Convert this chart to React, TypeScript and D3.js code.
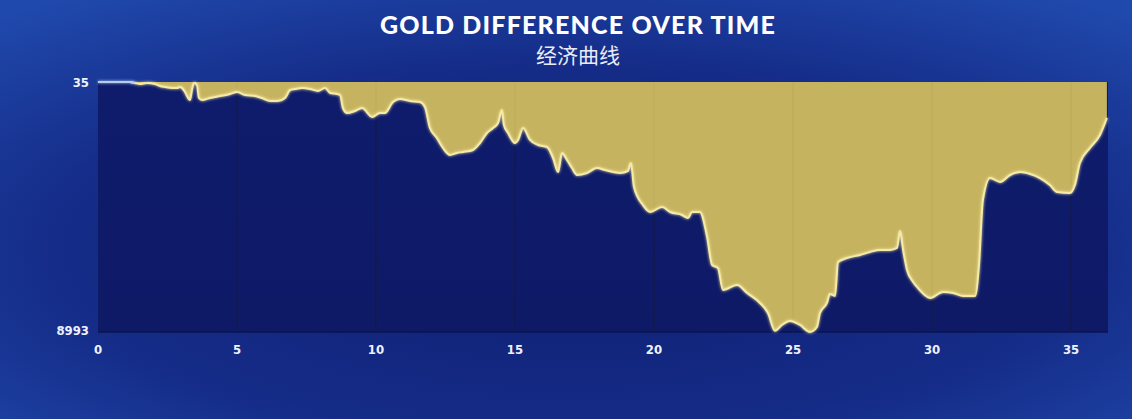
import React from "react";
import * as d3 from "d3";

const minutes = [0, 1.15, 1.33, 1.51, 1.76, 2.05, 2.23, 2.41, 2.66, 2.84, 2.95, 3.13, 3.24, 3.31, 3.38, 3.45, 3.56, 3.63, 3.74, 4.03, 4.39, 4.75, 5.0, 5.29, 5.65, 5.9, 6.19, 6.47, 6.73, 6.91, 7.09, 7.34, 7.63, 7.91, 8.17, 8.35, 8.6, 8.71, 8.81, 8.96, 9.24, 9.5, 9.86, 10.14, 10.32, 10.61, 10.86, 11.22, 11.58, 11.76, 11.94, 12.19, 12.41, 12.66, 12.91, 13.13, 13.49, 13.74, 13.99, 14.21, 14.39, 14.53, 14.6, 14.75, 15.0, 15.11, 15.29, 15.54, 15.83, 16.15, 16.37, 16.55, 16.69, 16.87, 17.05, 17.23, 17.59, 17.95, 18.24, 18.53, 18.78, 19.06, 19.17, 19.28, 19.6, 19.86, 20.29, 20.58, 21.01, 21.22, 21.37, 21.65, 21.91, 22.09, 22.3, 22.48, 22.99, 23.35, 23.81, 24.1, 24.35, 24.6, 24.89, 25.25, 25.61, 25.86, 25.97, 26.22, 26.33, 26.51, 26.62, 26.94, 27.41, 27.77, 28.13, 28.49, 28.74, 28.85, 28.96, 29.1, 29.32, 29.46, 29.93, 30.4, 30.76, 31.12, 31.55, 31.69, 31.83, 32.09, 32.45, 32.81, 33.17, 33.53, 33.88, 34.24, 34.5, 34.96, 35.14, 35.32, 35.68, 36.04, 36.29];

const goldDiff = [35, 35, -1, -37, -1, -37, -109, -146, -182, -182, -146, -326, -543, -615, -254, -1, -73, -543, -615, -543, -471, -398, -326, -434, -471, -543, -651, -651, -543, -254, -218, -182, -218, -290, -182, -362, -398, -434, -904, -1084, -1012, -904, -1229, -1084, -1084, -687, -579, -651, -687, -868, -1626, -1987, -2348, -2601, -2529, -2493, -2420, -2168, -1807, -1626, -1446, -976, -1518, -1807, -2168, -2059, -1626, -2059, -2240, -2312, -2709, -3215, -2529, -2782, -3071, -3323, -3251, -3071, -3143, -3215, -3251, -3179, -2890, -3757, -4406, -4659, -4479, -4659, -4768, -4876, -4659, -4659, -5562, -6573, -6681, -7476, -7295, -7584, -7945, -8306, -8950, -8740, -8595, -8740, -8993, -8812, -8306, -7945, -7620, -7692, -6465, -6320, -6212, -6104, -6031, -6031, -5959, -5345, -6031, -6753, -7187, -7367, -7765, -7548, -7584, -7692, -7692, -6573, -4226, -3432, -3576, -3323, -3215, -3287, -3432, -3684, -3937, -3973, -3684, -2890, -2348, -1879, -1265];

const xTicks = [0, 5, 10, 15, 20, 25, 30, 35];
const yTickLabels = ["35", "8993"];
const title = "GOLD DIFFERENCE OVER TIME";
const subtitle = "经济曲线";

const W = 1132;
const H = 419;
const L = 98, R = 1108, T = 82, B = 332;

export default function App() {
  const x = d3.scaleLinear().domain([0, 36.33]).range([L, R]);
  const y = d3.scaleLinear().domain([-8993, 35]).range([B, T]);
  const data = minutes.map((m, i) => ({ m, g: goldDiff[i] }));
  const area = d3
    .area<{ m: number; g: number }>()
    .x((d) => x(d.m))
    .y0(y(35))
    .y1((d) => y(d.g))
    .curve(d3.curveMonotoneX);
  const line = d3
    .line<{ m: number; g: number }>()
    .x((d) => x(d.m))
    .y((d) => y(d.g))
    .curve(d3.curveMonotoneX);
  const startData = data.slice(0, 3);
  const restData = data.slice(1);
  const tickFont = "'DejaVu Sans Condensed', 'DejaVu Sans', sans-serif";

  return (
    <svg
      width={W}
      height={H}
      style={{ position: "absolute", left: 0, top: 0, display: "block" }}
    >
      <defs>
        <radialGradient id="bg" cx="50%" cy="60%" r="75%">
          <stop offset="0%" stopColor="#0f1f72" />
          <stop offset="60%" stopColor="#152c88" />
          <stop offset="100%" stopColor="#2049ad" />
        </radialGradient>
        <linearGradient id="plotbg" x1="0" y1="0" x2="0" y2="1">
          <stop offset="0%" stopColor="#0f1c6c" />
          <stop offset="100%" stopColor="#0e1a66" />
        </linearGradient>
        <filter id="glow" x="-5%" y="-5%" width="110%" height="110%">
          <feGaussianBlur stdDeviation="1.4" result="b" />
          <feMerge>
            <feMergeNode in="b" />
            <feMergeNode in="SourceGraphic" />
          </feMerge>
        </filter>
      </defs>
      <rect x={0} y={0} width={W} height={H} fill="url(#bg)" />
      <rect x={L} y={T} width={R - L} height={B - T} fill="url(#plotbg)" />
      {xTicks.slice(1).map((t) => (
        <line
          key={"g" + t}
          x1={x(t)}
          x2={x(t)}
          y1={T}
          y2={B}
          stroke="#0a1452"
          strokeWidth={1.5}
        />
      ))}
      <line x1={L} x2={R} y1={B} y2={B} stroke="#0b1550" strokeWidth={1.5} />
      <path d={area(data) || ""} fill="#c6b35f" />
      {xTicks.slice(1).map((t) => (
        <line
          key={"go" + t}
          x1={x(t)}
          x2={x(t)}
          y1={T}
          y2={B}
          stroke="#8f7f3a"
          strokeOpacity={0.12}
          strokeWidth={1}
        />
      ))}
      <g filter="url(#glow)">
        <path d={line(restData) || ""} fill="none" stroke="#f6eba6" strokeWidth={2} />
        <path d={line(startData) || ""} fill="none" stroke="#b8cdee" strokeWidth={2} />
      </g>
      <text
        x={89}
        y={y(35) + 5}
        textAnchor="end"
        fill="#eef2ff"
        fontFamily={tickFont}
        fontWeight="bold"
        fontSize={13}
      >
        {yTickLabels[0]}
      </text>
      <text
        x={89}
        y={y(-8993) + 3}
        textAnchor="end"
        fill="#eef2ff"
        fontFamily={tickFont}
        fontWeight="bold"
        fontSize={13}
      >
        {yTickLabels[1]}
      </text>
      {xTicks.map((t) => (
        <text
          key={"t" + t}
          x={x(t)}
          y={354}
          textAnchor="middle"
          fill="#eef2ff"
          fontFamily={tickFont}
          fontWeight="bold"
          fontSize={13}
        >
          {t}
        </text>
      ))}
      <text
        x={578}
        y={34}
        textAnchor="middle"
        fill="#ffffff"
        fontFamily="Lato, 'Open Sans', sans-serif"
        fontWeight="900"
        fontSize={25}
        letterSpacing={1.2}
      >
        {title}
      </text>
      <text
        x={578}
        y={63}
        textAnchor="middle"
        fill="#e8ecf8"
        fontFamily="'Noto Sans CJK SC', sans-serif"
        fontSize={21}
      >
        {subtitle}
      </text>
    </svg>
  );
}
